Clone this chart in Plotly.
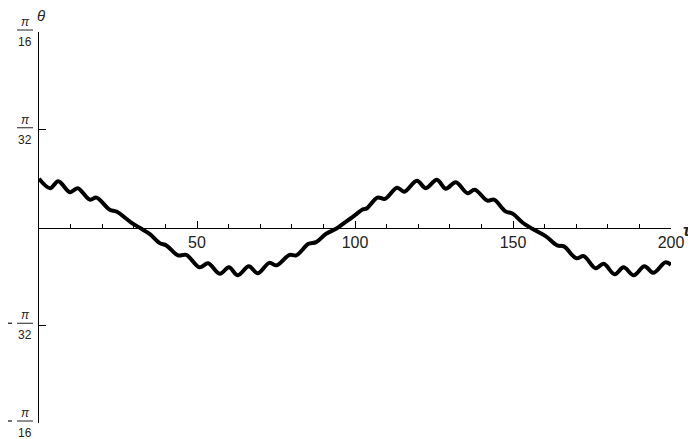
import math
import plotly.graph_objects as go

# Curve samples (tau, theta in radians)
tau = [0, 3.5, 6.1, 9.8, 12.2, 16.1, 18.2, 22.4, 24.5, 29.3, 32.4, 35.0, 38.2, 40.3,
       44.0, 46.6, 50.8, 53.5, 57.2, 60.1, 62.9, 66.4, 69.2, 72.9, 75.2, 79.3, 81.4,
       85.3, 87.7, 90.8, 94.0, 96.6, 99.2, 102.4, 103.8, 107.1, 109.5, 113.3, 115.6,
       119.6, 122.4, 125.9, 128.7, 131.9, 135.6, 137.9, 141.9, 144.0, 147.5, 150.0,
       152.9, 156.1, 160.3, 164.0, 166.1, 170.0, 172.4, 176.1, 178.7, 182.2, 185.0,
       188.2, 191.6, 194.5, 198.2, 200]
theta = [0.049, 0.0395, 0.0465, 0.0355, 0.0395, 0.028, 0.030, 0.0178, 0.016, 0.0047,
         -0.0013, -0.0064, -0.0157, -0.018, -0.028, -0.0275, -0.040, -0.036, -0.0465,
         -0.040, -0.048, -0.039, -0.046, -0.0355, -0.038, -0.0275, -0.028, -0.0164,
         -0.0147, -0.0064, -0.0013, 0.0047, 0.0104, 0.018, 0.0194, 0.030, 0.0288, 0.040,
         0.036, 0.047, 0.0395, 0.048, 0.039, 0.0455, 0.0345, 0.038, 0.027, 0.028, 0.0165,
         0.0137, 0.0053, -0.0013, -0.0087, -0.018, -0.019, -0.0308, -0.0288, -0.041,
         -0.0365, -0.047, -0.040, -0.048, -0.039, -0.0455, -0.035, -0.0375]

# Axis ticks
x_major_ticks = [50, 100, 150, 200]
x_major_labels = ["50", "100", "150", "200"]
y_tick_sign = [1, 1, -1, -1]
y_tick_denom = [16, 32, 32, 16]
y_ticks = [s * math.pi / d for s, d in zip(y_tick_sign, y_tick_denom)]
y_min, y_max = y_ticks[3], y_ticks[0]

FONT = "Liberation Sans, Arial, sans-serif"
TXT = "#222222"

fig = go.Figure()
fig.add_trace(go.Scatter(x=tau, y=theta, mode="lines",
                         line=dict(color="black", width=4, shape="spline", smoothing=1.0),
                         hoverinfo="skip", showlegend=False))

annotations = []
shapes = []
for s, d, v in zip(y_tick_sign, y_tick_denom, y_ticks):
    annotations.append(dict(x=0, y=v, xref="x", yref="y", text="<i>π</i>", showarrow=False,
                            xanchor="center", yanchor="middle", xshift=-14, yshift=10,
                            font=dict(family=FONT, size=12, color=TXT)))
    annotations.append(dict(x=0, y=v, xref="x", yref="y", text=str(d), showarrow=False,
                            xanchor="center", yanchor="middle", xshift=-14, yshift=-10,
                            font=dict(family=FONT, size=12, color=TXT)))
    py = (v - y_min) / (y_max - y_min)
    shapes.append(dict(type="line", xref="paper", yref="paper", xsizemode="pixel", ysizemode="pixel",
                       xanchor=0, yanchor=py, x0=-22, x1=-6, y0=2, y1=2,
                       line=dict(color=TXT, width=1)))
    if s < 0:
        shapes.append(dict(type="line", xref="paper", yref="paper", xsizemode="pixel",
                           ysizemode="pixel", xanchor=0, yanchor=py, x0=-34, x1=-27, y0=2, y1=2,
                           line=dict(color=TXT, width=1.3)))

annotations.append(dict(x=0, y=y_max, xref="x", yref="y", text="<i>θ</i>", showarrow=False,
                        xanchor="center", yanchor="middle", xshift=2, yshift=17,
                        font=dict(family=FONT, size=15, color=TXT)))
annotations.append(dict(x=200, y=0, xref="x", yref="y", text="<b><i>τ</i></b>", showarrow=False,
                        xanchor="center", yanchor="middle", xshift=16, yshift=-3,
                        font=dict(family=FONT, size=17, color=TXT)))

# page body adds an 8px offset; the figure is sized so the visible frame is 696x439
fig.update_layout(
    width=688, height=431,
    margin=dict(l=31, r=23, t=24, b=16),
    paper_bgcolor="white", plot_bgcolor="white",
    showlegend=False,
    annotations=annotations, shapes=shapes,
    xaxis=dict(range=[0, 200], anchor="free", position=0.5, showgrid=False, zeroline=False,
               showline=True, linecolor="black", linewidth=1,
               tickmode="array", tickvals=x_major_ticks, ticktext=x_major_labels,
               ticks="inside", ticklen=7, tickcolor="black",
               minor=dict(dtick=10, tick0=0, ticks="inside", ticklen=4, tickcolor="black"),
               tickfont=dict(family=FONT, size=16, color=TXT)),
    yaxis=dict(range=[y_min, y_max], showgrid=False, zeroline=False,
               showline=True, linecolor="black", linewidth=1,
               tickmode="array", tickvals=y_ticks, showticklabels=False,
               ticks="inside", ticklen=7, tickcolor="black"),
)

fig.write_html("out.html")
